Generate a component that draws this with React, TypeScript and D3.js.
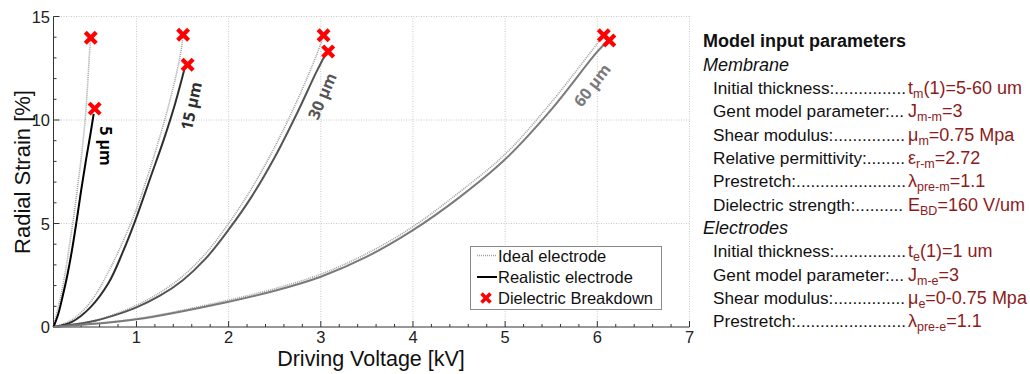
import React from 'react';
import * as d3 from 'd3';

// ---------- data ----------
const xMajorTicks = [1, 2, 3, 4, 5, 6, 7];
const yMajorTicks = [0, 5, 10, 15];

// [voltage kV, radial strain %]
const ideal5um: [number, number][] = [[0.1, 0], [0.14, 0.75], [0.185, 1.62], [0.232, 2.75], [0.276, 4.04], [0.319, 5.32], [0.366, 6.93], [0.41, 8.54], [0.446, 10.15], [0.471, 11.76], [0.493, 13.36], [0.503, 13.95]];
const real5um: [number, number][] = [[0.1, 0], [0.15, 0.6], [0.2, 1.5], [0.25, 2.5], [0.3, 3.7], [0.35, 5.1], [0.4, 6.6], [0.45, 8.0], [0.5, 9.3], [0.536, 10.3]];
const ideal15um: [number, number][] = [[0.1, 0], [0.3, 0.35], [0.5, 1.2], [0.7, 2.7], [0.85, 4.1], [1.0, 5.7], [1.1, 7.0], [1.2, 8.4], [1.3, 9.9], [1.4, 11.6], [1.47, 13.0], [1.505, 14.0]];
const real15um: [number, number][] = [[0.1, 0], [0.3, 0.25], [0.5, 0.95], [0.7, 2.15], [0.85, 3.6], [1.0, 5.3], [1.15, 7.2], [1.3, 9.1], [1.42, 10.8], [1.52, 12.45]];
const ideal30um: [number, number][] = [[0.1, 0], [0.5, 0.27], [0.75, 0.6], [1.0, 1.05], [1.25, 1.65], [1.5, 2.45], [1.75, 3.55], [2.0, 5.0], [2.25, 6.7], [2.5, 8.7], [2.75, 11.0], [2.95, 13.1], [3.02, 13.95]];
const real30um: [number, number][] = [[0.1, 0], [0.5, 0.25], [0.75, 0.55], [1.0, 0.95], [1.25, 1.5], [1.5, 2.25], [1.75, 3.3], [2.0, 4.7], [2.25, 6.3], [2.5, 8.2], [2.75, 10.4], [2.95, 12.3], [3.06, 13.25]];
const ideal60um: [number, number][] = [[0.1, 0], [1, 0.4], [2, 1.3], [2.5, 1.85], [3, 2.55], [3.5, 3.55], [4, 4.85], [4.5, 6.5], [5, 8.35], [5.5, 10.85], [6, 13.7], [6.06, 14.05]];
const real60um: [number, number][] = [[0.1, 0], [1, 0.37], [2, 1.22], [2.5, 1.75], [3, 2.43], [3.5, 3.4], [4, 4.68], [4.5, 6.25], [5, 8.1], [5.5, 10.5], [6, 13.3], [6.11, 13.8]];

const breakdownIdeal: [number, number][] = [[0.504, 13.97], [1.506, 14.12], [3.03, 14.09], [6.07, 14.09]];
const breakdownReal: [number, number][] = [[0.547, 10.55], [1.555, 12.67], [3.08, 13.31], [6.13, 13.84]];

const thicknessLabels = ['5 µm', '15 µm', '30 µm', '60 µm'];
const legendLabels = ['Ideal electrode', 'Realistic electrode', 'Dielectric Breakdown'];

const membraneLabels = ['Initial thickness:', 'Gent model parameter:', 'Shear modulus:', 'Relative permittivity:', 'Prestretch:', 'Dielectric strength:'];
const membraneSymbols = ['t', 'J', 'μ', 'ε', 'λ', 'E'];
const membraneSubs = ['m', 'm-m', 'm', 'r-m', 'pre-m', 'BD'];
const membraneValues = ['(1)=5-60 um', '=3', '=0.75 Mpa', '=2.72', '=1.1', '=160 V/um'];
const electrodeLabels = ['Initial thickness:', 'Gent model parameter:', 'Shear modulus:', 'Prestretch:'];
const electrodeSymbols = ['t', 'J', 'μ', 'λ'];
const electrodeSubs = ['e', 'm-e', 'e', 'pre-e'];
const electrodeValues = ['(1)=1 um', '=3', '=0-0.75 Mpa', '=1.1'];

// ---------- styles / layout ----------
const FONT = "'Liberation Sans', Arial, sans-serif";
const realColors = ['#000000', '#2e2e2e', '#555555', '#7a7a7a'];
const labelColors = ['#000000', '#2e2e2e', '#555555', '#7a7a7a'];
const labelLayout = [
  { x: 106, y: 146, r: 90 },
  { x: 191, y: 106, r: -78 },
  { x: 322, y: 96, r: -67 },
  { x: 592, y: 85, r: -52 },
];
const VALUE_RED = '#8c1c1c';
const LABEL_SIZE = 17.2;
const VALUE_SIZE = 18;

function measure(text: string, font: string): number {
  const ctx = document.createElement('canvas').getContext('2d');
  if (!ctx) return text.length * 8;
  ctx.font = font;
  return ctx.measureText(text).width;
}

const Cross = ({ x, y, s = 5.5, w = 4.2 }: { x: number; y: number; s?: number; w?: number }) => (
  <g transform={`translate(${x},${y})`} stroke="#ff0000" strokeWidth={w} strokeLinecap="butt">
    <line x1={-s} y1={-s} x2={s} y2={s} />
    <line x1={-s} y1={s} x2={s} y2={-s} />
  </g>
);

export default function App() {
  const x = d3.scaleLinear().domain([0.1, 7]).range([53.5, 689.5]);
  const y = d3.scaleLinear().domain([0, 15]).range([327, 16.5]);
  const line = d3
    .line<[number, number]>()
    .x((d) => x(d[0]))
    .y((d) => y(d[1]))
    .curve(d3.curveCatmullRom.alpha(0.5));

  const ideals = [ideal5um, ideal15um, ideal30um, ideal60um];
  const reals = [real5um, real15um, real30um, real60um];

  const xMinor = d3.range(1, 36).map((i) => i * 0.2).filter((v) => v <= 7.0001 && Math.abs(v - Math.round(v)) > 1e-6);
  const yMinor = d3.range(0, 16).filter((v) => v % 5 !== 0);

  // right panel
  const labelFont = `${LABEL_SIZE}px ${FONT}`;
  const labelX = 713;
  const valueX = 908;
  const dotW = measure('.', labelFont);
  const withDots = (label: string) => {
    const w = measure(label, labelFont);
    const n = Math.max(0, Math.floor((valueX - 1 - labelX - w) / dotW));
    return label + '.'.repeat(n);
  };
  const rowY0 = 94;
  const rowStep = 23.33;

  const renderRow = (label: string, sym: string, sub: string, val: string, yy: number, key: string) => (
    <g key={key}>
      <text x={labelX} y={yy} fontSize={LABEL_SIZE} fill="#111">{withDots(label)}</text>
      <text x={valueX} y={yy} fontSize={VALUE_SIZE} fill={VALUE_RED}>
        {sym}
        <tspan fontSize={12.5} dy={4}>{sub}</tspan>
        <tspan dy={-4}>{val}</tspan>
      </text>
    </g>
  );

  return (
    <svg width={1030} height={374} style={{ position: 'absolute', left: 0, top: 0, background: '#fff' }} fontFamily={FONT}>
      <rect x={0} y={0} width={1030} height={374} fill="#fff" />
      {/* grid */}
      <g stroke="#c8c8c8" strokeWidth={1} strokeDasharray="1,1.5">
        {xMajorTicks.map((t) => (
          <line key={'gx' + t} x1={x(t)} x2={x(t)} y1={y(0)} y2={y(15)} />
        ))}
        {yMajorTicks.filter((t) => t > 0).map((t) => (
          <line key={'gy' + t} x1={x(0.1)} x2={x(7)} y1={y(t)} y2={y(t)} />
        ))}
      </g>
      {/* axes */}
      <g stroke="#333" strokeWidth={1}>
        <line x1={x(0.1)} x2={x(0.1)} y1={y(0)} y2={y(15)} />
        <line x1={x(0.1)} x2={x(7)} y1={y(0)} y2={y(0)} />
        {xMajorTicks.map((t) => (
          <line key={'xt' + t} x1={x(t)} x2={x(t)} y1={y(0)} y2={y(0) - 6} />
        ))}
        {xMinor.map((t) => (
          <line key={'xm' + t} x1={x(t)} x2={x(t)} y1={y(0)} y2={y(0) - 3} />
        ))}
        {yMajorTicks.map((t) => (
          <line key={'yt' + t} x1={x(0.1)} x2={x(0.1) + 6} y1={y(t)} y2={y(t)} />
        ))}
        {yMinor.map((t) => (
          <line key={'ym' + t} x1={x(0.1)} x2={x(0.1) + 3} y1={y(t)} y2={y(t)} />
        ))}
      </g>
      {/* tick labels */}
      <g fontSize={16.5} fill="#222">
        {xMajorTicks.map((t) => (
          <text key={'xl' + t} x={x(t)} y={343} textAnchor="middle">{t}</text>
        ))}
        {yMajorTicks.map((t) => (
          <text key={'yl' + t} x={50} y={y(t) + 6} textAnchor="end">{t}</text>
        ))}
      </g>
      {/* axis titles */}
      <text x={371} y={365.5} fontSize={21.5} textAnchor="middle" fill="#111">Driving Voltage [kV]</text>
      <text transform={`translate(30,172) rotate(-90)`} fontSize={22} textAnchor="middle" fill="#111">Radial Strain [%]</text>

      {/* curves */}
      {ideals.map((d, i) => (
        <path key={'id' + i} d={line(d) || ''} fill="none" stroke="#a0a0a0" strokeWidth={1.6} strokeDasharray="1,1" />
      ))}
      {reals.map((d, i) => (
        <path key={'re' + i} d={line(d) || ''} fill="none" stroke={realColors[i]} strokeWidth={2} />
      ))}
      {breakdownIdeal.map((d, i) => (
        <Cross key={'bi' + i} x={x(d[0])} y={y(d[1])} />
      ))}
      {breakdownReal.map((d, i) => (
        <Cross key={'br' + i} x={x(d[0])} y={y(d[1])} />
      ))}
      {/* curve labels */}
      {thicknessLabels.map((t, i) => (
        <text
          key={'tl' + i}
          transform={`translate(${labelLayout[i].x},${labelLayout[i].y}) rotate(${labelLayout[i].r})`}
          textAnchor="middle"
          dominantBaseline="central"
          fontFamily="'Open Sans', sans-serif"
          fontWeight="bold"
          fontSize={16}
          fill={labelColors[i]}
        >
          {t}
        </text>
      ))}

      {/* legend */}
      <g>
        <rect x={470.5} y={246.5} width={191} height={63} fill="#fff" stroke="#8a8a8a" strokeWidth={1} />
        <line x1={477} x2={497} y1={255.5} y2={255.5} stroke="#a0a0a0" strokeWidth={1.6} strokeDasharray="1,1" />
        <line x1={477} x2={497} y1={277} y2={277} stroke="#000" strokeWidth={2} />
        <Cross x={486} y={298} s={4.5} w={3.6} />
        <g fontSize={16.5} fill="#111">
          {legendLabels.map((l, i) => (
            <text key={'lg' + i} x={498} y={261.5 + i * 21.2}>{l}</text>
          ))}
        </g>
      </g>

      {/* right panel */}
      <text x={703} y={47} fontSize={18} fontWeight="bold" fill="#111">Model input parameters</text>
      <text x={703} y={70.5} fontSize={18} fontStyle="italic" fill="#111">Membrane</text>
      {membraneLabels.map((l, i) =>
        renderRow(l, membraneSymbols[i], membraneSubs[i], membraneValues[i], rowY0 + i * rowStep, 'm' + i)
      )}
      <text x={703} y={rowY0 + 6 * rowStep} fontSize={18} fontStyle="italic" fill="#111">Electrodes</text>
      {electrodeLabels.map((l, i) =>
        renderRow(l, electrodeSymbols[i], electrodeSubs[i], electrodeValues[i], rowY0 + (7 + i) * rowStep, 'e' + i)
      )}
    </svg>
  );
}
